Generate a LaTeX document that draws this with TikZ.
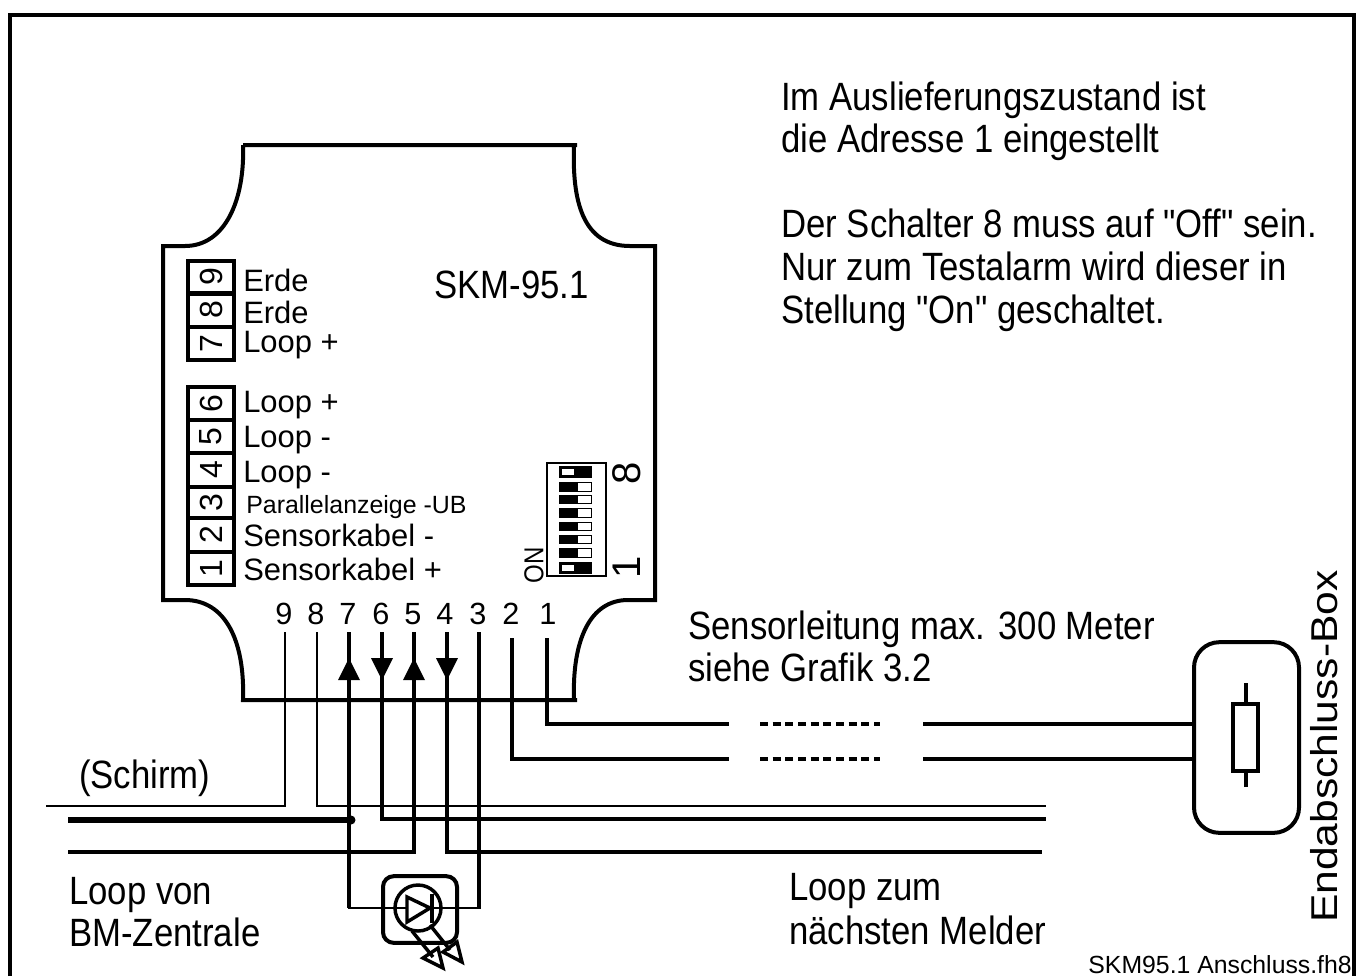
\documentclass[tikz,border=0pt]{standalone}
\usepackage{fontspec}
\setmainfont{Liberation Sans}
\newfontfamily\narrowf[FakeStretch=.88]{Liberation Sans}
\newfontfamily\widef[FakeStretch=1.14]{Liberation Sans}
\tikzset{
  wire/.style={line width=3pt,line join=miter},
  thinwire/.style={line width=1.5pt},
  shell/.style={line width=3pt},
  big/.style={anchor=base west,inner sep=0pt,font=\narrowf\fontsize{29.6}{32}\selectfont},
  lab/.style={anchor=base west,inner sep=0pt,font=\fontsize{23.2}{26}\selectfont},
  small/.style={anchor=base west,inner sep=0pt,font=\fontsize{18.7}{22}\selectfont},
  pinno/.style={anchor=base,inner sep=0pt,font=\fontsize{23}{25}\selectfont},
  cell/.style={draw,line width=3pt,minimum width=34.5pt,inner sep=0pt,font=\fontsize{24}{26}\selectfont},
  dashwire/.style={line width=3pt,dash pattern=on 6pt off 3.5pt},
  ledline/.style={line width=2.6pt},
}
\begin{document}
\begin{tikzpicture}[x=.75pt,y=-.75pt]
\useasboundingbox (0,0) rectangle (1356,976);
% frame
\draw[line width=3pt] (10,976) -- (10,15) -- (1354,15) -- (1354,976);
% housing
\draw[shell,line join=miter]
  (243,145) -- (577,145)
  (574,145) .. controls (572,200) and (582,246) .. (630,246) -- (655,246) -- (655,600) -- (628,600)
  .. controls (590,600) and (572,640) .. (574,700) (577,700) -- (243,700)
  .. controls (245,640) and (225,600) .. (185,600) -- (163,600) -- (163,246) -- (185,246)
  .. controls (225,246) and (245,200) .. (243,145);
% terminal blocks
\node[cell,minimum height=24.75pt] (t9) at (211,277) {\rotatebox{90}{9}};
\node[cell,minimum height=25.5pt] (t8) at (211,310) {\rotatebox{90}{8}};
\node[cell,minimum height=25pt] (t7) at (211,343.5) {\rotatebox{90}{7}};
\node[cell,minimum height=24.75pt] (t6) at (211,403.5) {\rotatebox{90}{6}};
\node[cell,minimum height=24.75pt] (t5) at (211,436.5) {\rotatebox{90}{5}};
\node[cell,minimum height=25.5pt] (t4) at (211,470) {\rotatebox{90}{4}};
\node[cell,minimum height=23.25pt] (t3) at (211,502.5) {\rotatebox{90}{3}};
\node[cell,minimum height=25.5pt] (t2) at (211,535) {\rotatebox{90}{2}};
\node[cell,minimum height=24.75pt] (t1) at (211,568.5) {\rotatebox{90}{1}};
% terminal labels
\node[lab] (l9) at (243,291) {Erde};
\node[lab] (l8) at (243,323) {Erde};
\node[lab] (l7) at (243,352) {Loop +};
\node[lab] (l6) at (243,412) {Loop +};
\node[lab] (l5) at (243,447) {Loop -};
\node[lab] (l4) at (243,482) {Loop -};
\node[small] (l3) at (246,513) {Parallelanzeige -UB};
\node[lab] (l2) at (243,546) {Sensorkabel -};
\node[lab] (l1) at (243,580) {Sensorkabel +};
% texts
\node[big] (skm) at (434,298) {SKM-95.1};
\node[big] (a1) at (781,110) {Im Auslieferungszustand ist};
\node[big] (a2) at (781,152) {die Adresse 1 eingestellt};
\node[big] (b1) at (781,237) {Der Schalter 8 muss auf "Off" sein.};
\node[big] (b2) at (781,280) {Nur zum Testalarm wird dieser in};
\node[big] (b3) at (781,323) {Stellung "On" geschaltet.};
\node[big] (s1) at (688,639) {Sensorleitung max. 300 Meter};
\node[big] (s2) at (688,681) {siehe Grafik 3.2};
\node[big] (schirm) at (79,788) {(Schirm)};
\node[big] (lv1) at (69,904) {Loop von};
\node[big] (lv2) at (69,946) {BM-Zentrale};
\node[big] (lz1) at (789,900) {Loop zum};
\node[big] (lz2) at (789,944) {nächsten Melder};
\node[anchor=base west,inner sep=0pt,rotate=90,font=\widef\fontsize{28}{30}\selectfont] (ebx) at (1337,923) {Endabschluss-Box};
\node[anchor=base east,inner sep=0pt,font=\fontsize{18.6}{20}\selectfont] (fh) at (1352,973) {SKM95.1 Anschluss.fh8};
% pin numbers
\foreach \n/\x in {9/284,8/316,7/348,6/381,5/413,4/445,3/478,2/511,1/548}
  \node[pinno] (p\n) at (\x,624) {\n};
% DIP switch
\node[draw,line width=1.1pt,minimum width=44pt,minimum height=84.75pt,inner sep=0pt] (dip) at (576.5,519.5) {};
\foreach \ya/\yb in {466/478,562/574}{
  \fill (559,\ya) rectangle (592,\yb);
  \fill[white] (562,\ya+3) rectangle (574,\yb-3);
}
\foreach \ya/\yb in {482/492,495/504,508/518,522/531,535/544,548/558}{
  \fill[white] (559,\ya) rectangle (592,\yb);
  \draw[line width=.9pt] (559.6,\ya+.6) rectangle (591.4,\yb-.6);
  \fill (559,\ya) rectangle (578,\yb);
}
\node[inner sep=0pt,rotate=90,font=\fontsize{30}{32}\selectfont] (d8) at (627,473) {8};
\node[inner sep=0pt,rotate=90,font=\fontsize{30}{32}\selectfont] (d1) at (627,567) {1};
\node[inner sep=0pt,rotate=90,font=\narrowf\fontsize{20.5}{22}\selectfont] (on) at (534,565) {ON};
% end box
\node[draw,line width=3pt,rounded corners=19pt,minimum width=78.75pt,minimum height=143pt,inner sep=0pt] (endbox) at (1246.5,737.5) {};
\node[draw,line width=3pt,minimum width=18.75pt,minimum height=50pt,inner sep=0pt] (res) at (1245.5,737.5) {};
\coordinate (rt) at (1246,683);
\coordinate (rb) at (1246,787);
\draw[line width=3.7pt] (rt) -- (res.north -| rt);
\draw[line width=3.7pt] (rb) -- (res.south -| rb);
% LED
\node[draw,line width=3pt,rounded corners=8pt,minimum width=55.5pt,minimum height=50pt,inner sep=0pt] (led) at (420,909.5) {};
\node[draw,circle,line width=2.6pt,minimum size=34.5pt,inner sep=0pt] (ledc) at (418,908) {};
\draw[ledline] (407,897) -- (407,922) -- (430,908) -- cycle;
\draw[line width=3pt] (432,894) -- (432,923);
\draw[ledline] (412,931) -- (433,957);
\draw[ledline] (430,925) -- (450,950);
\draw[ledline,line join=miter] (443,968) -- (423,958) -- (438,948) -- cycle;
\draw[ledline,line join=miter] (462,962) -- (443,952) -- (457,942) -- cycle;
% wire top ends
\foreach \n/\x in {9/285,8/317,7/349,6/382,5/414,4/447,3/479}
  \coordinate (w\n) at (\x,632);
\coordinate (w2) at (512,638);
\coordinate (w1) at (547,638);
% thin wires
\coordinate (sl) at (46,806);
\coordinate (er) at (1046,806);
\draw[thinwire] (w9) |- (sl);
\draw[thinwire] (w8) |- (er);
% loop wires
\coordinate (l6r) at (1046,819);
\coordinate (l5l) at (68,852);
\coordinate (l4r) at (1042,852);
\coordinate (shl) at (68,820);
\coordinate (dot) at (351,820);
\draw[wire] (w6) |- (l6r);
\draw[wire] (w5) |- (l5l);
\draw[wire] (w4) |- (l4r);
\draw[line width=3.8pt] (shl) -- (dot);
\fill (dot) circle (4.5);
\coordinate (ledl) at (led.west |- ledc);
\coordinate (ledr) at (led.east |- ledc);
\draw[wire] (w7) -- (w7 |- ledc);
\draw[wire] (w3) -- (w3 |- ledc);
\draw[line width=2.2pt] (w7 |- ledc) ++(-1.5,0) -- (ledl);
\draw[line width=2.2pt] (w3 |- ledc) ++(1.5,0) -- (ledr);
\draw[line width=2.2pt] (ledl) -- (407,908);
\draw[line width=2.2pt] (432,908) -- (ledr);
% sensor wires
\coordinate (s1a) at (729,724);
\coordinate (s1b) at (760,724);
\coordinate (s1c) at (880,724);
\coordinate (s1d) at (923,724);
\coordinate (s2a) at (729,759);
\coordinate (s2b) at (760,759);
\coordinate (s2c) at (880,759);
\coordinate (s2d) at (923,759);
\draw[wire] (w1) |- (s1a);
\draw[dashwire] (s1b) -- (s1c);
\draw[wire] (s1d) -- (endbox.west |- s1d);
\draw[wire] (w2) |- (s2a);
\draw[dashwire] (s2b) -- (s2c);
\draw[wire] (s2d) -- (endbox.west |- s2d);
% arrowheads
\foreach \n in {7,5}
  \fill (w\n |- 0,658) -- ([xshift=11*.75pt]w\n |- 0,680) -- ([xshift=-11*.75pt]w\n |- 0,680) -- cycle;
\foreach \n in {6,4}
  \fill (w\n |- 0,680) -- ([xshift=11*.75pt]w\n |- 0,658) -- ([xshift=-11*.75pt]w\n |- 0,658) -- cycle;
\end{tikzpicture}
\end{document}
